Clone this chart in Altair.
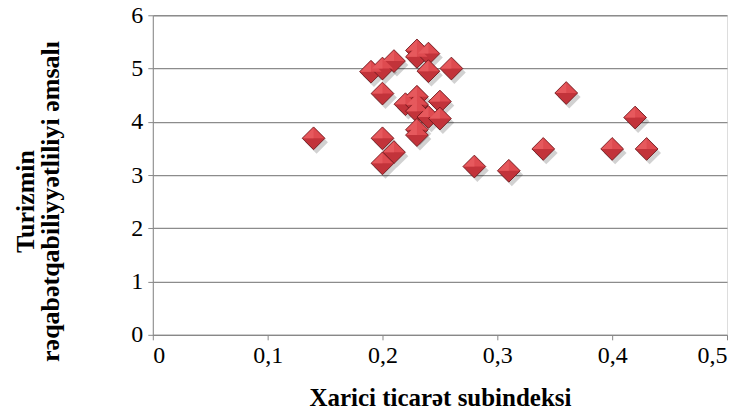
import altair as alt
import pandas as pd

x_vals = [0.14, 0.19, 0.20, 0.21, 0.20, 0.23, 0.23, 0.24, 0.24, 0.26,
          0.22, 0.23, 0.23, 0.23, 0.25, 0.24, 0.25, 0.23, 0.23, 0.20,
          0.21, 0.20, 0.28, 0.31, 0.34, 0.36, 0.40, 0.42, 0.43]
y_vals = [3.69, 4.94, 5.00, 5.14, 4.53, 5.34, 5.22, 5.28, 4.95, 5.00,
          4.33, 4.47, 4.32, 4.20, 4.38, 4.09, 4.06, 3.85, 3.75, 3.69,
          3.43, 3.22, 3.16, 3.08, 3.49, 4.54, 3.49, 4.08, 3.49]

df = pd.DataFrame({"x": x_vals, "y": y_vals})

FONT = "Liberation Serif"

xs = alt.Scale(domain=[0, 0.5], nice=False)
ys = alt.Scale(domain=[0, 6], nice=False)

x_axis = alt.Axis(
    values=[0, 0.1, 0.2, 0.3, 0.4, 0.5],
    labelExpr="datum.value == 0 ? '0' : replace(format(datum.value, '.1f'), '.', ',')",
    grid=False, domainColor="#888888", tickColor="#888888", tickSize=5,
    labelPadding=4, labelFontSize=24,
    title="Xarici ticarət subindeksi", titlePadding=18, titleFontSize=25,
)
y_axis = alt.Axis(
    values=[0, 1, 2, 3, 4, 5, 6],
    grid=True, gridColor="#8c8c8c", gridWidth=1.3,
    domainColor="#888888", tickColor="#888888", tickSize=5,
    labelPadding=5, labelFontSize=24,
    title=["Turizmin", "rəqabətqabiliyyətliliyi əmsalı"],
    titlePadding=67, titleLineHeight=25, titleFontSize=26, titleY=186,
)

base = alt.Chart(df).encode(
    x=alt.X("x:Q", scale=xs, axis=x_axis),
    y=alt.Y("y:Q", scale=ys, axis=y_axis),
)

shadow = base.mark_point(
    shape="diamond", filled=True, size=520, color="#000000", opacity=0.18,
    xOffset=3, yOffset=4,
)

body = base.mark_point(
    shape="diamond", filled=True, size=520, fill="#C2333A", stroke="#6E1A1E",
    strokeWidth=0.9, opacity=1,
)

top = base.mark_point(
    shape="M-0.93,0L0,-0.93L0.93,0Z", filled=True, size=520, fill="#DE4B50",
    strokeWidth=0, opacity=1,
)

topleft = base.mark_point(
    shape="M-0.93,0L0,-0.93L0,0Z", filled=True, size=520, fill="#E6595D",
    strokeWidth=0, opacity=1,
)

chart = alt.layer(shadow, body, top, topleft).properties(
    width=575, height=320,
    autosize=alt.AutoSizeParams(type="none"),
    padding={"left": 145, "top": 7, "right": 10, "bottom": 76},
).configure_view(stroke=None).configure(background="#ffffff").configure_axis(
    labelFont=FONT, labelColor="#000000",
    titleFont=FONT, titleFontWeight="bold", titleColor="#000000",
)

chart.save("out.html", embed_options={"renderer": "svg", "actions": False})
